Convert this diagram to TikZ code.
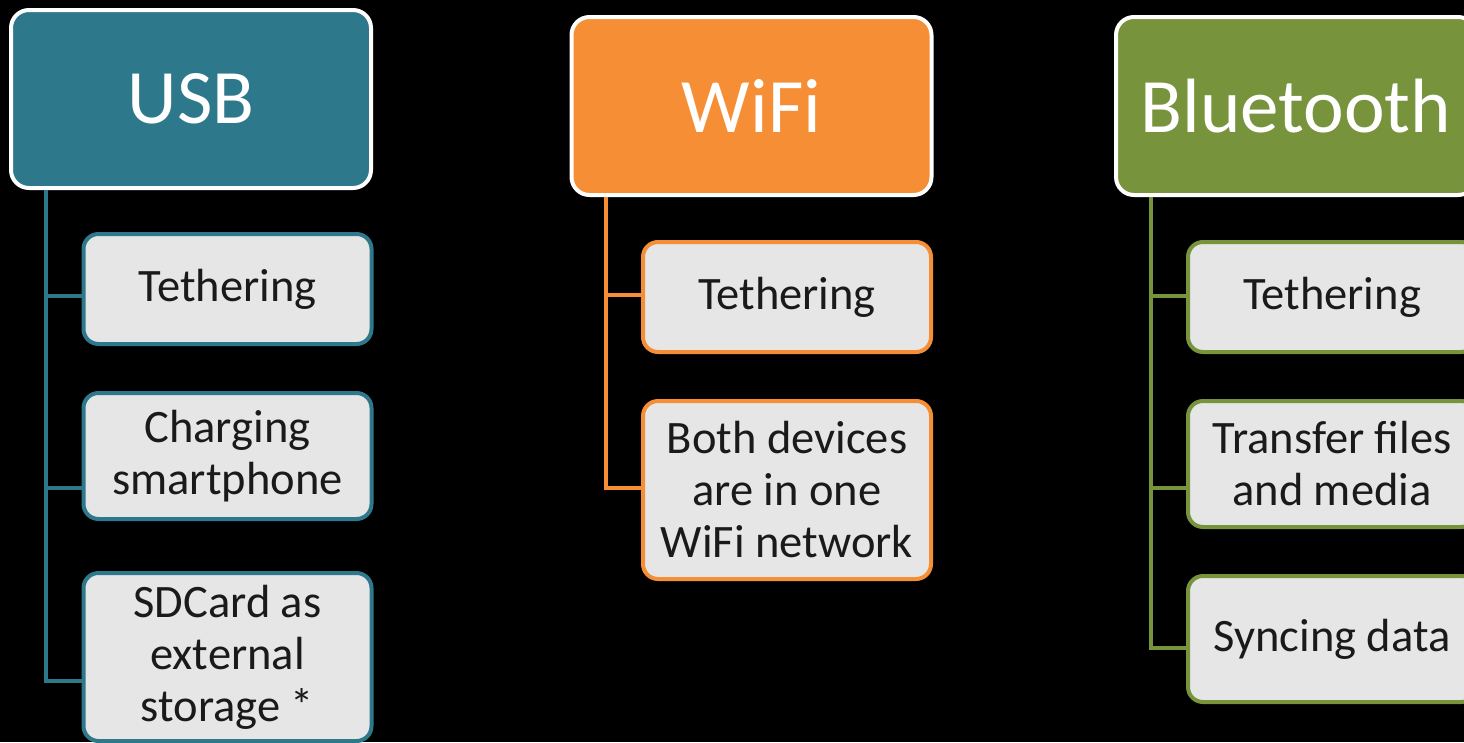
\documentclass[tikz,border=0pt]{standalone}
\usepackage{fontspec}
\setmainfont{Carlito}
\definecolor{usbteal}{RGB}{46,120,140}
\definecolor{wifiorange}{RGB}{246,142,54}
\definecolor{btgreen}{RGB}{119,147,60}
\definecolor{itemfill}{RGB}{230,230,230}
\definecolor{itemtext}{RGB}{26,26,26}
\tikzset{
  header/.style={draw=white, line width=4pt, fill=#1, rounded corners=18pt,
    rectangle, minimum width=360pt, minimum height=178pt, inner sep=2pt,
    text=white, font=\fontsize{77}{84}\selectfont},
  item/.style={draw=#1, line width=4pt, fill=itemfill, rounded corners=15pt,
    rectangle, minimum width=288pt, inner sep=2pt, align=center,
    text=itemtext, font=\fontsize{46.5}{52}\selectfont},
  branch/.style={draw=#1, line width=4pt, line join=miter}
}
\begin{document}
\begin{tikzpicture}[x=1pt, y=-1pt]
  % page and black backdrop
  \useasboundingbox (0,0) rectangle (1464,742);
  \fill[black] (0,0) rectangle (1464,742);
  \clip (0,0) rectangle (1464,742);

  % USB column
  \node[header=usbteal] (usb) at (191,99) {USB};
  \node[item=usbteal, minimum height=110pt] (usb1) at (227.5,289) {Tethering};
  \node[item=usbteal, minimum height=126pt] (usb2) at (227.5,456) {Charging\\smartphone};
  \node[item=usbteal, minimum height=168pt] (usb3) at (227.5,657) {SDCard as\\external\\storage *};
  \draw[branch=usbteal] ([xshift=37pt]usb.south west) |- ([yshift=-7pt]usb1.west);
  \draw[branch=usbteal] ([xshift=37pt]usb.south west) |- ([yshift=-32pt]usb2.west);
  \draw[branch=usbteal] ([xshift=37pt]usb.south west) |- ([yshift=-24pt]usb3.west);

  % WiFi column
  \node[header=wifiorange] (wifi) at (751.5,106) {WiFi};
  \node[item=wifiorange, minimum height=110pt] (wifi1) at (787,297) {Tethering};
  \node[item=wifiorange, minimum height=178pt] (wifi2) at (787,490) {Both devices\\are in one\\WiFi network};
  \draw[branch=wifiorange] ([xshift=36pt]wifi.south west) |- ([yshift=2pt]wifi1.west);
  \draw[branch=wifiorange] ([xshift=36pt]wifi.south west) |- ([yshift=2pt]wifi2.west);

  % Bluetooth column
  \node[header=btgreen] (bt) at (1296,106) {Bluetooth};
  \node[item=btgreen, minimum height=110pt] (bt1) at (1332,297) {Tethering};
  \node[item=btgreen, minimum height=126pt] (bt2) at (1332,464) {Transfer files\\and media};
  \node[item=btgreen, minimum height=126pt] (bt3) at (1332,639) {Syncing data};
  \draw[branch=btgreen] ([xshift=37pt]bt.south west) |- ([yshift=1pt]bt1.west);
  \draw[branch=btgreen] ([xshift=37pt]bt.south west) |- ([yshift=-24pt]bt2.west);
  \draw[branch=btgreen] ([xshift=37pt]bt.south west) |- ([yshift=-9pt]bt3.west);
\end{tikzpicture}
\end{document}
